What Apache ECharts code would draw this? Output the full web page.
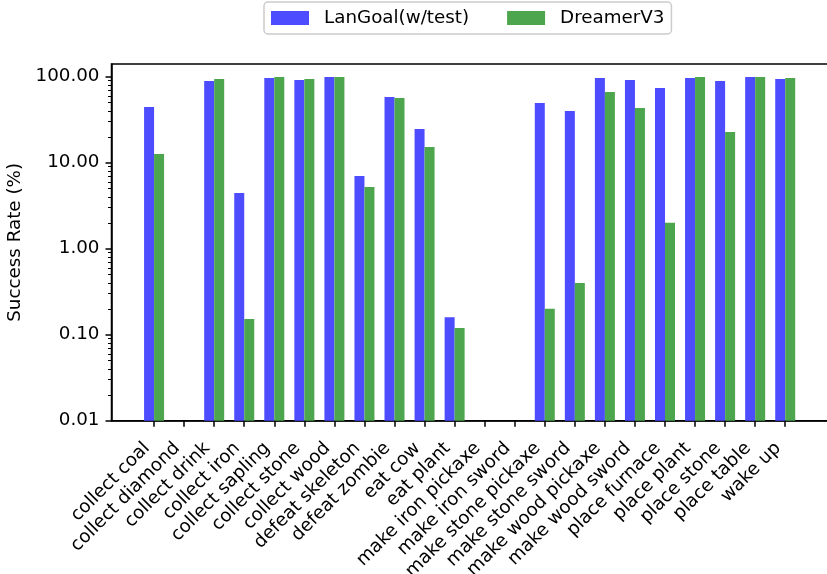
<!DOCTYPE html>
<html>
<head>
<meta charset="utf-8">
<script src="https://cdn.jsdelivr.net/npm/echarts@6/dist/echarts.min.js"></script>
<style>html,body{margin:0;padding:0;background:#fff}#c{width:827px;height:574px}</style>
</head>
<body>
<div id="c"></div>
<script>
const categories = ['collect coal','collect diamond','collect drink','collect iron','collect sapling','collect stone','collect wood','defeat skeleton','defeat zombie','eat cow','eat plant','make iron pickaxe','make iron sword','make stone pickaxe','make stone sword','make wood pickaxe','make wood sword','place furnace','place plant','place stone','place table','wake up'];
const langoal = [44.4, 0, 89, 4.44, 96.6, 91.5, 99, 7.0, 58, 24.7, 0.16, 0, 0, 49.4, 40, 96.6, 91.5, 74, 96.6, 89, 99, 94];
const dreamer = [12.6, 0, 94, 0.152, 99, 94, 99, 5.2, 56.5, 15.2, 0.12, 0, 0, 0.2, 0.4, 66.4, 43.3, 2.0, 99, 22.8, 99, 96.6];
const majorTicks = [0.01, 0.1, 1, 10, 100];
const minorTicks = [];
[0.01, 0.1, 1, 10, 100].forEach(d => { for (let k = 2; k <= 9; k++) { const v = +(d * k).toPrecision(3); if (v < 140) minorTicks.push(v); } });

const FONT = 'DejaVu Sans';
const FS = 18.3;
const idx = categories.map((_, i) => i);
const toData = arr => arr.map((v, i) => [i, v > 0 ? v : '-']);

const chart = echarts.init(document.getElementById('c'), null, {renderer: 'canvas'});
chart.setOption({
  animation: false,
  backgroundColor: '#fff',
  textStyle: {fontFamily: FONT},
  legend: {
    left: 264, top: 2,
    padding: [6, 7, 6, 7],
    backgroundColor: '#fff',
    borderColor: '#cccccc', borderWidth: 1.5, borderRadius: 4,
    icon: 'rect', itemWidth: 38, itemHeight: 14, itemGap: 38,
    textStyle: {fontFamily: FONT, fontSize: FS, color: '#000', padding: [0, 0, 0, 10], lineHeight: 20},
    data: ['LanGoal(w/test)', 'DreamerV3']
  },
  grid: {left: 111.5, width: 716.3, top: 64, bottom: 153.3, show: true, borderColor: '#000', borderWidth: 1.5, containLabel: false, outerBoundsMode: 'none'},
  xAxis: {
    type: 'value', min: -1.4167, max: 22.4167,
    splitLine: {show: false},
    axisLine: {show: true, onZero: false, lineStyle: {color: '#000', width: 1.5}},
    axisTick: {show: true, length: 6, lineStyle: {color: '#000', width: 1.5}, customValues: idx},
    axisLabel: {
      customValues: idx, rotate: 45, align: 'right', verticalAlign: 'top', margin: 5,
      padding: [0, 19, 0, 0],
      fontFamily: FONT, fontSize: FS, color: '#000', hideOverlap: false,
      formatter: v => categories[Math.round(v)]
    }
  },
  yAxis: [{
    type: 'log', logBase: 10, min: 0.01, max: 140.5, startValue: 0.01,
    name: 'Success Rate (%)', nameLocation: 'middle', nameGap: 85,
    nameTextStyle: {fontFamily: FONT, fontSize: FS, color: '#000'},
    splitLine: {show: false},
    axisLine: {show: true, onZero: false, lineStyle: {color: '#000', width: 1.5}},
    axisTick: {show: true, length: 6, lineStyle: {color: '#000', width: 1.5}, customValues: majorTicks},
    axisLabel: {customValues: majorTicks, margin: 12, fontFamily: FONT, fontSize: FS, color: '#000', formatter: v => Number(v).toFixed(2)}
  }, {
    type: 'log', logBase: 10, min: 0.01, max: 140.5, position: 'left',
    splitLine: {show: false},
    axisLine: {show: false, onZero: false},
    axisTick: {show: true, length: 3.5, lineStyle: {color: '#000', width: 1}, customValues: minorTicks},
    axisLabel: {show: false}
  }],
  series: [{
    name: 'LanGoal(w/test)', type: 'bar', yAxisIndex: 0, barWidth: 10, barGap: '0%',
    itemStyle: {color: '#4D4DFF'}, data: toData(langoal)
  }, {
    name: 'DreamerV3', type: 'bar', yAxisIndex: 0, barWidth: 10, barGap: '0%',
    itemStyle: {color: '#4DA64D'}, data: toData(dreamer)
  }]
});
</script>
</body>
</html>
